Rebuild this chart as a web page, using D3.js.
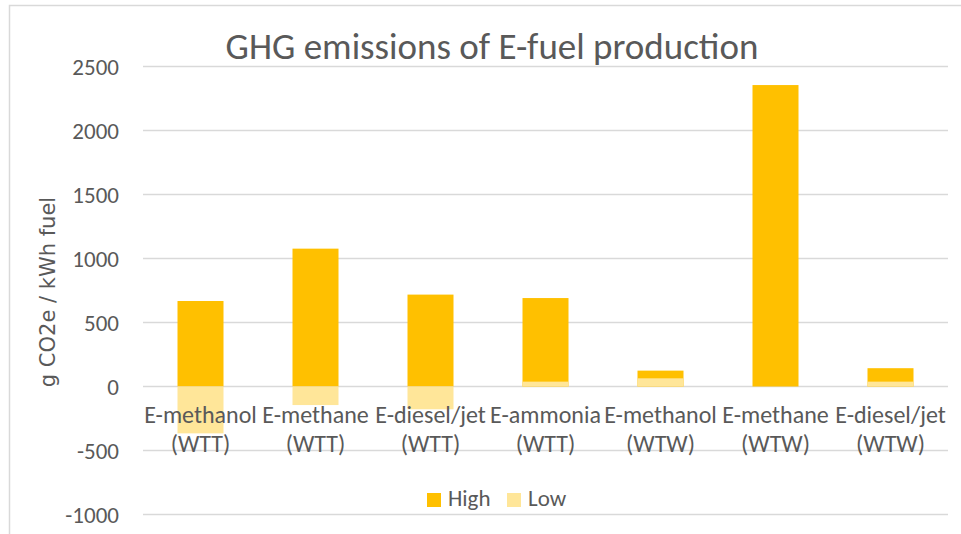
<!DOCTYPE html>
<html>
<head>
<meta charset="utf-8">
<script src="https://cdn.jsdelivr.net/npm/d3@7"></script>
<style>
    html, body { margin: 0; padding: 0; background: #fff; }
    svg { display: block; }
</style>
</head>
<body>
<div id="chart"></div>
<script>
var categories = [
    ['E-methanol', '(WTT)'],
    ['E-methane', '(WTT)'],
    ['E-diesel/jet', '(WTT)'],
    ['E-ammonia', '(WTT)'],
    ['E-methanol', '(WTW)'],
    ['E-methane', '(WTW)'],
    ['E-diesel/jet', '(WTW)']
];
var highValues = [668, 1077, 718, 691, 124, 2355, 143];
var lowValues = [-366, -145, -178, 38, 64, 0, 38];
var yTicks = [-1000, -500, 0, 500, 1000, 1500, 2000, 2500];
var seriesNames = ['High', 'Low'];
var seriesColors = ['#FFC000', '#FFE699'];

var width = 961;
var height = 534;
var textColor = '#595959';
var gridColor = '#d9d9d9';
var font = 'Carlito, Calibri, Lato, sans-serif';

var svg = d3.select('#chart').append('svg')
    .attr('width', width)
    .attr('height', height);

// chart area border (only left/top edges fall inside the picture)
svg.append('rect')
    .attr('x', 9.5)
    .attr('y', 5.5)
    .attr('width', 1000)
    .attr('height', 1000)
    .attr('fill', '#fff')
    .attr('stroke', gridColor)
    .attr('stroke-width', 1.5);

var plot = { left: 143, right: 948, top: 66.5, bottom: 514.5 };

var x = d3.scaleBand()
    .domain(d3.range(categories.length))
    .range([plot.left, plot.right])
    .paddingInner(0.6)
    .paddingOuter(0.3);

var y = d3.scaleLinear()
    .domain([-1000, 2500])
    .range([plot.bottom, plot.top]);

// gridlines
svg.append('g')
    .attr('class', 'grid')
    .selectAll('line')
    .data(yTicks)
    .enter().append('line')
    .attr('x1', plot.left)
    .attr('x2', plot.right)
    .attr('y1', function(d) {
        return y(d);
    })
    .attr('y2', function(d) {
        return y(d);
    })
    .attr('stroke', gridColor)
    .attr('stroke-width', 1.5);

// y tick labels
svg.append('g')
    .attr('class', 'y-ticks')
    .selectAll('text')
    .data(yTicks)
    .enter().append('text')
    .attr('x', 119)
    .attr('y', function(d) {
        return y(d);
    })
    .attr('dy', '0.35em')
    .attr('text-anchor', 'end')
    .attr('font-family', font)
    .attr('font-size', 23)
    .attr('fill', textColor)
    .text(function(d) {
        return d;
    });

// bars: High first, Low drawn over it (100% overlap)
var series = [highValues, lowValues];
series.forEach(function(values, s) {
    svg.append('g')
        .attr('class', 'series-' + seriesNames[s].toLowerCase())
        .selectAll('rect')
        .data(values)
        .enter().append('rect')
        .attr('x', function(d, i) {
            return x(i);
        })
        .attr('width', x.bandwidth())
        .attr('y', function(d) {
            return y(Math.max(0, d));
        })
        .attr('height', function(d) {
            return Math.abs(y(d) - y(0));
        })
        .attr('fill', seriesColors[s]);
});

// category labels
var catLabels = svg.append('g')
    .attr('class', 'x-labels')
    .selectAll('text')
    .data(categories)
    .enter().append('text')
    .attr('x', function(d, i) {
        return x(i) + x.bandwidth() / 2;
    })
    .attr('y', 423)
    .attr('text-anchor', 'middle')
    .attr('font-family', font)
    .attr('font-size', 24)
    .attr('fill', textColor);

catLabels.selectAll('tspan')
    .data(function(d) {
        return d;
    })
    .enter().append('tspan')
    .attr('x', function() {
        return d3.select(this.parentNode).attr('x');
    })
    .attr('dy', function(d, i) {
        return i === 0 ? 0 : 29;
    })
    .text(function(d) {
        return d;
    });

// title
svg.append('text')
    .attr('x', 492)
    .attr('y', 59)
    .attr('text-anchor', 'middle')
    .attr('font-family', font)
    .attr('font-size', 37)
    .attr('fill', textColor)
    .text('GHG emissions of E-fuel production');

// y axis title
svg.append('text')
    .attr('transform', 'translate(55,292) rotate(-90)')
    .attr('text-anchor', 'middle')
    .attr('font-family', '"DejaVu Sans", Verdana, sans-serif')
    .attr('font-size', 21)
    .attr('fill', textColor)
    .text('g CO2e / kWh fuel');

// legend
var legendX = [427, 507];
var legend = svg.append('g')
    .attr('class', 'legend')
    .selectAll('g')
    .data(seriesNames)
    .enter().append('g')
    .attr('transform', function(d, i) {
        return 'translate(' + legendX[i] + ',493)';
    });

legend.append('rect')
    .attr('width', 14)
    .attr('height', 14)
    .attr('fill', function(d, i) {
        return seriesColors[i];
    });

legend.append('text')
    .attr('x', 21)
    .attr('y', 13)
    .attr('font-family', font)
    .attr('font-size', 23)
    .attr('fill', textColor)
    .text(function(d) {
        return d;
    });
</script>
</body>
</html>
